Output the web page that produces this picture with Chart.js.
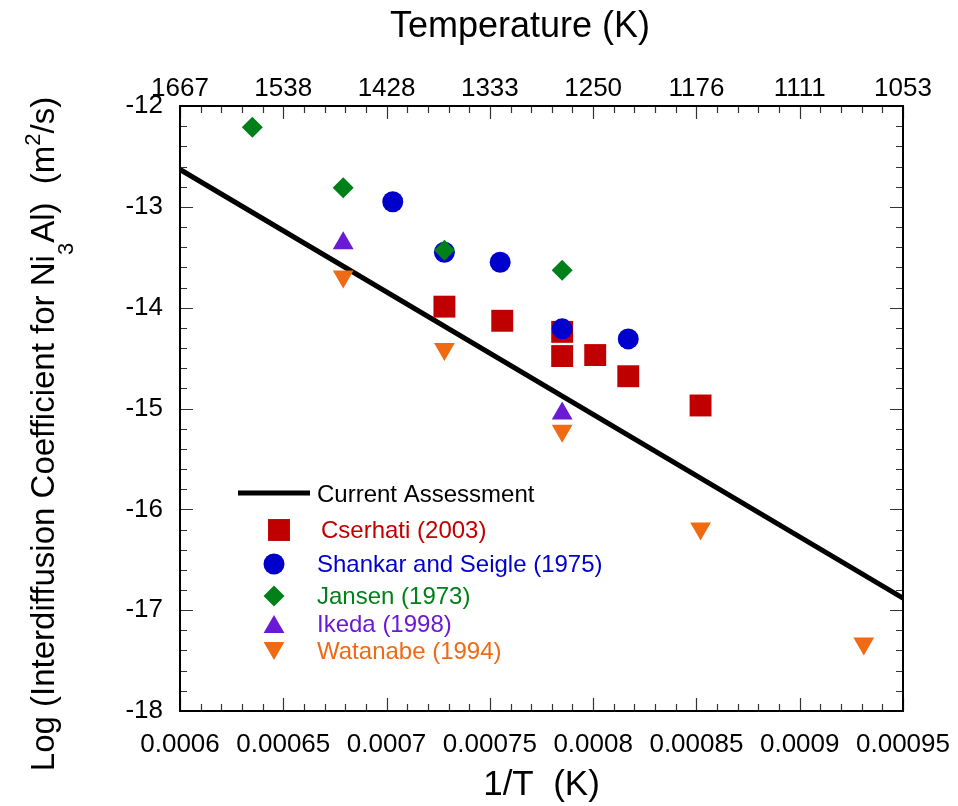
<!DOCTYPE html>
<html>
<head>
<meta charset="utf-8">
<script src="https://cdn.jsdelivr.net/npm/chart.js@4.4.1/dist/chart.umd.min.js"></script>
<style>
html,body{margin:0;padding:0;background:#fff;}
#wrap{width:958px;height:806px;}
</style>
</head>
<body>
<div id="wrap"><canvas id="c" width="958" height="806"></canvas></div>
<script>
// ---- tick labels ----
const xTickValues = [0.0006, 0.00065, 0.0007, 0.00075, 0.0008, 0.00085, 0.0009, 0.00095];
const xTickLabels = ['0.0006','0.00065','0.0007','0.00075','0.0008','0.00085','0.0009','0.00095'];
const tempTickLabels = ['1667','1538','1428','1333','1250','1176','1111','1053'];
const yTickValues = [-12, -13, -14, -15, -16, -17, -18];
const yTickLabels = ['-12','-13','-14','-15','-16','-17','-18'];

// ---- series ----
const seriesNames = ['Current Assessment','Cserhati (2003)','Shankar and Seigle (1975)','Jansen (1973)','Ikeda (1998)','Watanabe (1994)'];
const assessmentX = [0.0006, 0.00095];
const assessmentY = [-12.63, -16.88];
const cserhatiX = [0.000728, 0.000756, 0.000785, 0.000785, 0.000801, 0.000817, 0.000852];
const cserhatiY = [-13.99, -14.13, -14.24, -14.48, -14.47, -14.68, -14.97];
const shankarX = [0.000703, 0.000728, 0.000755, 0.000785, 0.000817];
const shankarY = [-12.95, -13.45, -13.55, -14.21, -14.31];
const jansenX = [0.000635, 0.000679, 0.000728, 0.000785];
const jansenY = [-12.21, -12.81, -13.43, -13.63];
const ikedaX = [0.000679, 0.000785];
const ikedaY = [-13.36, -15.05];
const watanabeX = [0.000679, 0.000728, 0.000785, 0.000852, 0.000931];
const watanabeY = [-13.69, -14.41, -15.22, -16.19, -17.33];

const FONT = "'Liberation Sans', Arial, Helvetica, sans-serif";
const COLORS = ['#000000', '#C00000', '#0000CC', '#008018', '#6A1AD4', '#F06A14'];
const pts = (xs, ys) => xs.map((x, i) => ({x: x, y: ys[i]}));

const markerDefs = [
  null,
  {pointStyle: 'rect', radius: 15.5, rotation: 0},
  {pointStyle: 'circle', radius: 10.5, rotation: 0},
  {pointStyle: 'rectRot', radius: 10.5, rotation: 0},
  {pointStyle: 'triangle', radius: 12, rotation: 0},
  {pointStyle: 'triangle', radius: 12, rotation: 180}
];

function markerSet(idx, xs, ys) {
  const m = markerDefs[idx];
  return {
    label: seriesNames[idx],
    data: pts(xs, ys),
    showLine: false,
    pointStyle: m.pointStyle,
    pointRadius: m.radius,
    pointHoverRadius: m.radius,
    pointRotation: m.rotation,
    pointBackgroundColor: COLORS[idx],
    pointBorderColor: COLORS[idx],
    pointBorderWidth: 0,
    backgroundColor: COLORS[idx],
    borderColor: COLORS[idx],
    order: 6 - idx
  };
}

const frameAndDecor = {
  id: 'frameAndDecor',
  afterDraw(chart) {
    const ctx = chart.ctx;
    const a = chart.chartArea;
    const xs = chart.scales.x, ys = chart.scales.y;
    ctx.save();
    // ticks (inward on all four sides)
    ctx.strokeStyle = '#333';
    ctx.lineWidth = 1.2;
    ctx.beginPath();
    for (let k = 0; k <= 35; k++) {
      const v = 0.0006 + k * 0.00001;
      const px = Math.round(xs.getPixelForValue(v)) + 0.5;
      const len = (k % 5 === 0) ? 13 : 7;
      ctx.moveTo(px, a.bottom); ctx.lineTo(px, a.bottom - len);
      ctx.moveTo(px, a.top); ctx.lineTo(px, a.top + len);
    }
    for (let k = 0; k <= 30; k++) {
      const v = -12 - k * 0.2;
      const py = Math.round(ys.getPixelForValue(v)) + 0.5;
      const len = (k % 5 === 0) ? 13 : 7;
      ctx.moveTo(a.left, py); ctx.lineTo(a.left + len, py);
      ctx.moveTo(a.right, py); ctx.lineTo(a.right - len, py);
    }
    ctx.stroke();
    // frame
    ctx.strokeStyle = '#000';
    ctx.lineWidth = 2;
    ctx.strokeRect(a.left, a.top, a.right - a.left, a.bottom - a.top);

    // top title
    ctx.fillStyle = '#000';
    ctx.font = '36px ' + FONT;
    ctx.textAlign = 'center';
    ctx.textBaseline = 'alphabetic';
    ctx.fillText('Temperature (K)', 520, 37);

    // y-axis title with sub/superscripts
    const parts = [
      {t: 'Log (Interdiffusion Coefficient for Ni', s: 33, dy: 0},
      {t: '3', s: 22, dy: 19},
      {t: 'Al)  (m', s: 33, dy: 0},
      {t: '2', s: 22, dy: -14},
      {t: '/s)', s: 33, dy: 0}
    ];
    let total = 0;
    parts.forEach(p => { ctx.font = p.s + 'px ' + FONT; p.w = ctx.measureText(p.t).width; total += p.w; });
    ctx.save();
    ctx.translate(54, 434);
    ctx.rotate(-Math.PI / 2);
    ctx.textAlign = 'left';
    let cx = -total / 2;
    parts.forEach(p => { ctx.font = p.s + 'px ' + FONT; ctx.fillText(p.t, cx, p.dy); cx += p.w; });
    ctx.restore();

    // legend
    const L = a.left, T = a.top;
    const rows = [
      {mx: L + 99, my: T + 424, tx: L + 141, ty: T + 432},
      {mx: L + 94, my: T + 458, tx: L + 137, ty: T + 466},
      {mx: L + 94, my: T + 490, tx: L + 137, ty: T + 498},
      {mx: L + 94, my: T + 521, tx: L + 137, ty: T + 526},
      {mx: L + 94, my: T + 542, tx: L + 137, ty: T + 553}
    ];
    ctx.font = '24px ' + FONT;
    ctx.textAlign = 'left';
    ctx.textBaseline = 'alphabetic';
    // line sample
    ctx.strokeStyle = COLORS[0];
    ctx.lineWidth = 5;
    ctx.beginPath();
    ctx.moveTo(L + 58, T + 387); ctx.lineTo(L + 130, T + 387);
    ctx.stroke();
    ctx.fillStyle = COLORS[0];
    ctx.fillText(seriesNames[0], L + 137, T + 396);
    for (let i = 1; i <= 5; i++) {
      const r = rows[i - 1];
      const m = markerDefs[i];
      ctx.fillStyle = COLORS[i];
      ctx.strokeStyle = COLORS[i];
      Chart.helpers.drawPoint(ctx, {pointStyle: m.pointStyle, radius: m.radius, rotation: m.rotation, borderWidth: 0}, r.mx, r.my);
      ctx.fillStyle = COLORS[i];
      ctx.fillText(seriesNames[i], r.tx, r.ty);
    }
    ctx.restore();
  }
};

const tickFont = {family: FONT, size: 26};

new Chart(document.getElementById('c'), {
  type: 'scatter',
  data: {
    datasets: [
      {
        label: seriesNames[0],
        data: pts(assessmentX, assessmentY),
        showLine: true,
        borderColor: COLORS[0],
        backgroundColor: COLORS[0],
        borderWidth: 5,
        pointRadius: 0,
        pointHoverRadius: 0,
        fill: false,
        order: 6
      },
      markerSet(1, cserhatiX, cserhatiY),
      markerSet(2, shankarX, shankarY),
      markerSet(3, jansenX, jansenY),
      markerSet(4, ikedaX, ikedaY),
      markerSet(5, watanabeX, watanabeY)
    ]
  },
  options: {
    responsive: false,
    animation: false,
    devicePixelRatio: 1,
    layout: {padding: {left: 0, right: 55, top: 0, bottom: 0}},
    plugins: {legend: {display: false}, tooltip: {enabled: false}},
    scales: {
      x: {
        type: 'linear', position: 'bottom', min: 0.0006, max: 0.00095,
        afterBuildTicks: s => { s.ticks = xTickValues.map(v => ({value: v})); },
        afterFit: s => { s.height = 95; s.paddingLeft = 0; s.paddingRight = 0; },
        ticks: {autoSkip: false, maxRotation: 0, minRotation: 0, padding: 18, color: '#000', font: tickFont,
                callback: (v, i) => xTickLabels[i]},
        grid: {display: false, drawTicks: false},
        border: {display: false},
        title: {display: true, text: '1/T  (K)', color: '#000', font: {family: FONT, size: 35}, padding: {top: 0, bottom: 0}}
      },
      x2: {
        type: 'linear', position: 'top', min: 0.0006, max: 0.00095,
        afterBuildTicks: s => { s.ticks = xTickValues.map(v => ({value: v})); },
        afterFit: s => { s.height = 106; s.paddingLeft = 0; s.paddingRight = 0; },
        ticks: {autoSkip: false, maxRotation: 0, minRotation: 0, padding: 2, color: '#000', font: tickFont,
                callback: (v, i) => tempTickLabels[i]},
        grid: {display: false, drawTicks: false},
        border: {display: false}
      },
      y: {
        type: 'linear', position: 'left', min: -18, max: -12,
        afterBuildTicks: s => { s.ticks = yTickValues.map(v => ({value: v})); },
        afterFit: s => { s.width = 180; s.paddingTop = 0; s.paddingBottom = 0; },
        ticks: {autoSkip: false, padding: 17, color: '#000', font: tickFont,
                callback: (v, i) => yTickLabels[i]},
        grid: {display: false, drawTicks: false},
        border: {display: false}
      }
    }
  },
  plugins: [frameAndDecor]
});
</script>
</body>
</html>
